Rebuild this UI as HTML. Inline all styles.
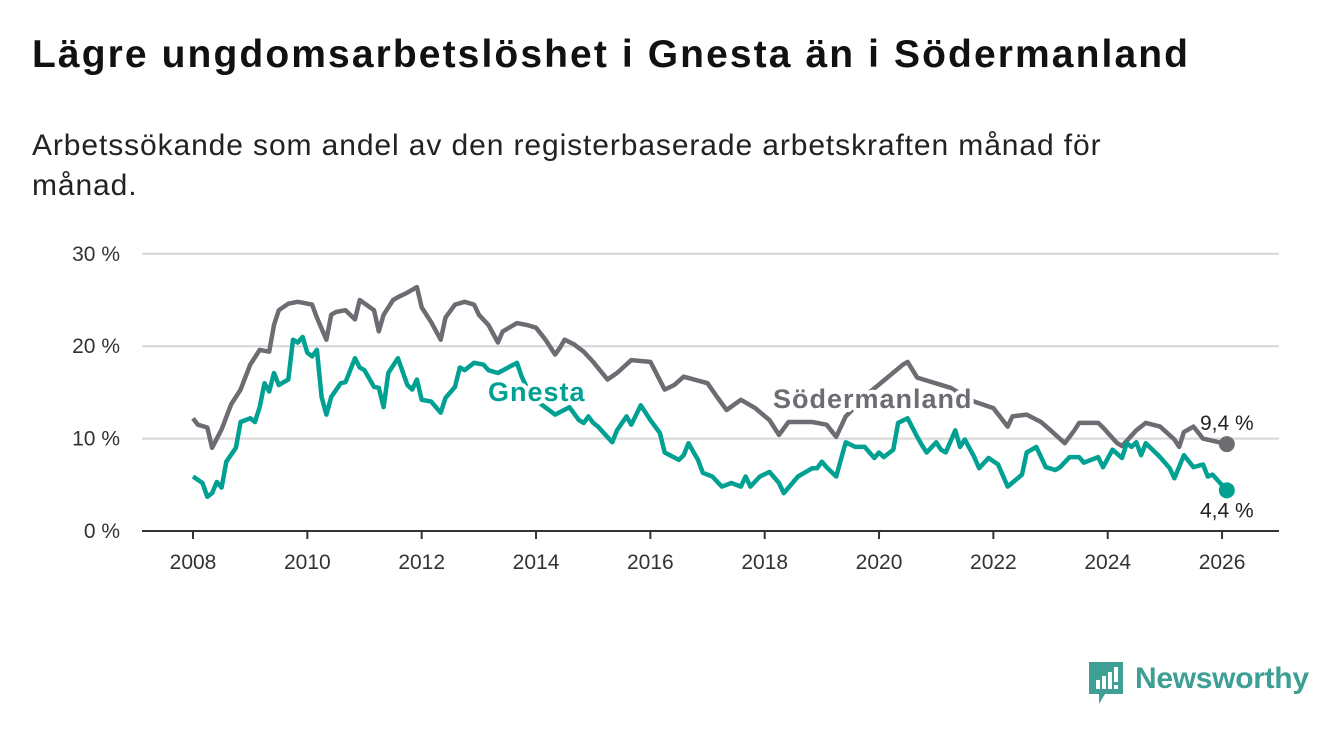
<!DOCTYPE html>
<html><head><meta charset="utf-8"><style>
body{margin:0;background:#fff;width:1340px;height:734px;overflow:hidden;font-family:"Liberation Sans",sans-serif;}
#title{position:absolute;left:32px;top:33px;font-size:39px;font-weight:bold;color:#111;margin:0;letter-spacing:2.1px;white-space:nowrap}
#sub{position:absolute;left:32px;top:126px;font-size:30px;color:#222;line-height:40px;width:1165px;letter-spacing:0.9px}
svg{position:absolute;left:0;top:0}
</style></head><body>
<h1 id="title">Lägre ungdomsarbetslöshet i Gnesta än i Södermanland</h1>
<div id="sub">Arbetssökande som andel av den registerbaserade arbetskraften månad för månad.</div>
<svg id="chart" width="1340" height="734"></svg>
<script>
const yTicks=[0,10,20,30];
const yTickLabels=["0 %","10 %","20 %","30 %"];
const xTicks=[2008,2010,2012,2014,2016,2018,2020,2022,2024,2026];
const sodMonths=[0,1,3,4,6,8,10,12,14,16,17,18,20,22,25,26,28,29,30,32,34,35,38,39,40,42,43,45,47,48,50,52,53,55,57,59,60,62,64,65,68,70,72,74,76,77,78,80,82,84,87,89,92,96,99,101,103,108,110,112,115,118,121,123,125,130,133,135,137,142,149,150,152,159,164,168,171,172,175,178,180,183,185,186,190,191,194,195,198,200,203,206,207,208,210,212,217];
const sodValues=[12.2,11.5,11.2,9.0,11.0,13.7,15.3,18.0,19.6,19.4,22.3,23.9,24.6,24.8,24.5,23.1,20.7,23.4,23.7,23.9,22.9,25.0,23.9,21.6,23.4,25.0,25.3,25.8,26.4,24.2,22.6,20.7,23.1,24.5,24.8,24.5,23.4,22.3,20.4,21.6,22.5,22.3,22.0,20.7,19.1,19.8,20.7,20.2,19.4,18.3,16.4,17.1,18.5,18.3,15.3,15.8,16.7,16.0,14.5,13.1,14.2,13.3,12.0,10.4,11.8,11.8,11.5,10.2,12.4,15.0,18.0,18.3,16.6,15.5,14.0,13.3,11.3,12.4,12.6,11.8,10.9,9.5,10.9,11.7,11.7,11.2,9.5,9.2,10.9,11.7,11.3,9.9,9.1,10.7,11.3,10.0,9.4];
const gneMonths=[0,2,3,4,5,6,7,9,10,12,13,14,15,16,17,18,20,21,22,23,24,25,26,27,28,29,31,32,34,35,36,38,39,40,41,43,45,46,47,48,50,52,53,55,56,57,59,61,62,64,68,69,71,76,79,81,82,83,84,85,88,89,91,92,94,96,98,99,102,103,104,105,106,107,109,111,113,115,116,117,119,121,123,124,127,130,131,132,133,135,137,139,141,143,144,145,147,148,150,152,153,154,156,157,158,160,161,162,164,165,167,169,171,174,175,177,179,181,182,184,186,187,190,191,193,195,196,197,198,199,200,203,205,206,208,210,212,213,214,217];
const gneValues=[5.9,5.2,3.7,4.1,5.3,4.7,7.5,9.0,11.8,12.2,11.8,13.4,16.0,15.1,17.1,15.8,16.4,20.7,20.4,21.0,19.3,18.9,19.6,14.5,12.6,14.5,16.0,16.1,18.7,17.7,17.4,15.6,15.5,13.4,17.1,18.7,15.8,15.3,16.4,14.2,14.0,12.8,14.4,15.6,17.7,17.4,18.2,18.0,17.4,17.1,18.2,16.7,14.5,12.6,13.4,12.0,11.7,12.4,11.7,11.3,9.6,10.9,12.4,11.5,13.6,12.0,10.6,8.5,7.7,8.2,9.5,8.6,7.7,6.3,5.9,4.8,5.2,4.8,5.9,4.8,5.9,6.4,5.2,4.1,5.9,6.8,6.8,7.5,6.9,5.9,9.6,9.1,9.1,7.9,8.5,8.0,8.8,11.7,12.2,10.2,9.3,8.5,9.6,8.8,8.5,10.9,9.1,9.9,8.0,6.8,7.9,7.2,4.8,6.1,8.5,9.1,6.9,6.6,6.9,8.0,8.0,7.4,8.0,6.9,8.8,7.9,9.5,9.1,9.6,8.2,9.5,8.0,6.8,5.7,8.2,6.9,7.2,5.9,6.1,4.4];
const NS="http://www.w3.org/2000/svg";
const svg=document.getElementById('chart');
const x=m=>193+m*57.17/12;
const xy=yr=>x((yr-2008)*12);
const y=v=>531-v*9.24;
function el(t,a,p){const e=document.createElementNS(NS,t);for(const k in a)e.setAttribute(k,a[k]);(p||svg).appendChild(e);return e;}
yTicks.forEach((v,i)=>{
  const g=el('line',{x1:142,x2:1279,y1:y(v),y2:y(v),stroke:v===0?'#333':'#d6d6d6','stroke-width':2});
  
  
  const t=el('text',{x:120,y:y(v)+7,'text-anchor':'end','font-size':21,fill:'#333'});
  t.textContent=yTickLabels[i];
  
  
});
xTicks.forEach(yr=>{
  const l=el('line',{x1:xy(yr),x2:xy(yr),y1:531,y2:539,stroke:'#333','stroke-width':2});
  
  
  const t=el('text',{x:xy(yr),y:569,'text-anchor':'middle','font-size':21,fill:'#333'});
  t.textContent=yr;
  
  
});
function line(ms,vs,col,name){
  const d=ms.map((m,i)=>(i?'L':'M')+x(m).toFixed(1)+','+y(vs[i]).toFixed(1)).join('');
  const p=el('path',{d:d,fill:'none',stroke:col,'stroke-width':4.5,'stroke-linejoin':'round'});
  
  
  const n=ms.length-1;
  const c=el('circle',{cx:x(ms[n]),cy:y(vs[n]),r:8,fill:col});
  
  
  return [x(ms[n]),y(vs[n])];
}
const se=line(sodMonths,sodValues,'#6d6c72','sodermanland');
const ge=line(gneMonths,gneValues,'#00a092','gnesta');
function label(tx,xx,yy,col,name,bold,size,anchor,ls){
  const t=el('text',{x:xx,y:yy,'font-size':size,'font-weight':bold?'bold':'normal',fill:col,stroke:'#fff','stroke-width':bold?8:5,'paint-order':'stroke','stroke-linejoin':'round','text-anchor':anchor||'start','letter-spacing':ls||0});
  t.textContent=tx;
  
  
}
label('Gnesta',488,401,'#00a092','gnesta-series-label',true,27,'start',1);
label('Södermanland',773,408,'#6d6c72','sodermanland-series-label',true,27,'start',1);
label('9,4 %',se[0],se[1]-14,'#222','sodermanland-end-value',false,21,'middle');
label('4,4 %',ge[0],ge[1]+27,'#222','gnesta-end-value',false,21,'middle');
</script>
<div style="position:absolute;left:1089px;top:662px;width:230px;height:44px">
<svg width="36" height="44" style="position:absolute;left:0;top:0"><path d="M0 0H34V32H16L10 42V32H0Z" fill="#3e9f95"/><rect x="7" y="18" width="4" height="9" fill="#fff"/><rect x="13" y="14" width="4" height="13" fill="#fff"/><rect x="19" y="10" width="4" height="17" fill="#fff"/><rect x="25" y="5" width="4" height="15" fill="#fff"/><rect x="25" y="23" width="4" height="4" fill="#fff"/></svg>
<span style="position:absolute;left:46px;top:0px;font-size:30px;color:#3e9f95;font-weight:bold;letter-spacing:-0.3px">Newsworthy</span>
</div>
</body></html>
